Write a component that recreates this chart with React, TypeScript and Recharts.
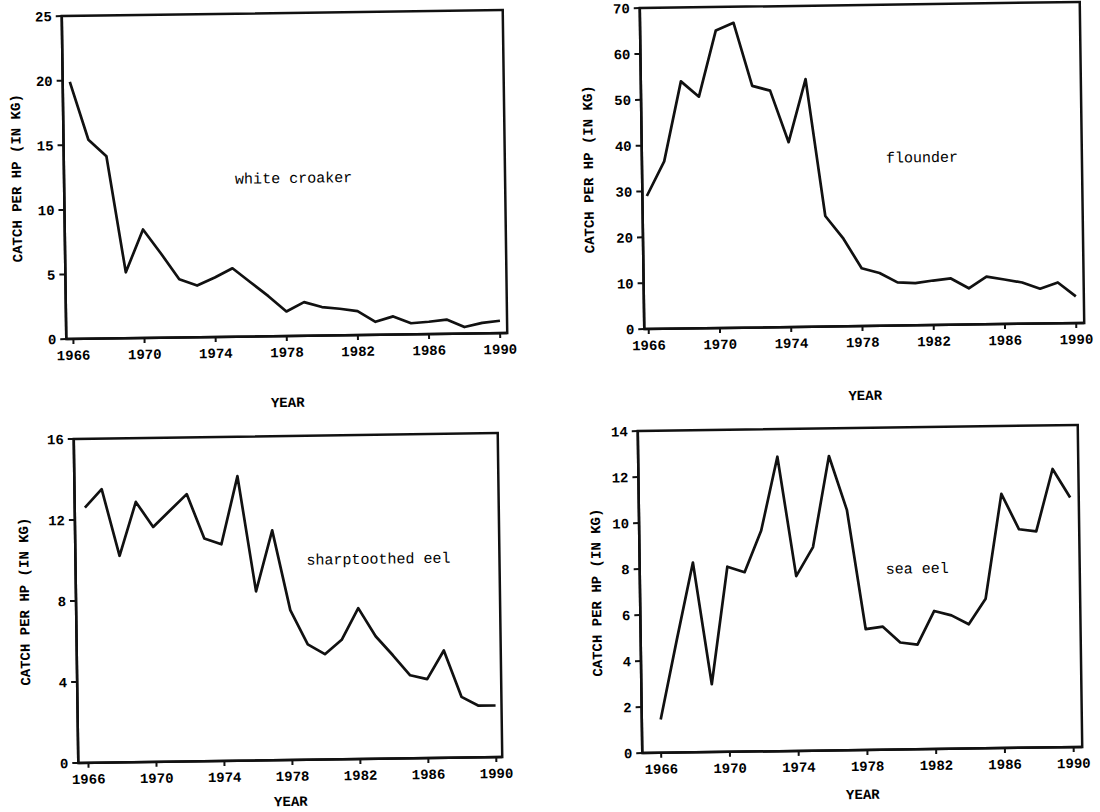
import { LineChart, Line, XAxis, YAxis, ReferenceArea } from "recharts";

const YEARS = [1966, 1967, 1968, 1969, 1970, 1971, 1972, 1973, 1974, 1975, 1976, 1977, 1978,
  1979, 1980, 1981, 1982, 1983, 1984, 1985, 1986, 1987, 1988, 1989, 1990];
const YEAR_TICKS = [1966, 1970, 1974, 1978, 1982, 1986, 1990];

const WHITE_CROAKER = [19.9, 15.4, 14.1, 5.1, 8.4, 6.5, 4.5, 4.0, 4.6, 5.3, 4.2, 3.1, 1.9,
  2.6, 2.2, 2.05, 1.85, 1.0, 1.4, 0.85, 0.95, 1.1, 0.5, 0.8, 0.95];
const FLOUNDER = [29.0, 36.5, 53.9, 50.5, 64.9, 66.5, 52.7, 51.6, 40.3, 54.0, 24.1, 19.1, 12.6,
  11.5, 9.4, 9.2, 9.7, 10.1, 7.9, 10.4, 9.7, 9.0, 7.6, 8.9, 5.8];
const SHARPTOOTHED_EEL = [12.6, 13.5, 10.2, 12.85, 11.6, 12.4, 13.2, 11.0, 10.7, 14.05, 8.35, 11.35, 7.4,
  5.7, 5.2, 5.9, 7.45, 6.05, 5.1, 4.1, 3.9, 5.3, 3.0, 2.55, 2.55];
const SEA_EEL = [1.45, 4.9, 8.25, 2.95, 8.05, 7.8, 9.6, 12.8, 7.6, 8.85, 12.8, 10.45, 5.25,
  5.35, 4.65, 4.55, 6.0, 5.8, 5.4, 6.5, 11.05, 9.5, 9.4, 12.1, 10.85];

const Y_TICKS_WC = [0, 5, 10, 15, 20, 25];
const Y_TICKS_FL = [0, 10, 20, 30, 40, 50, 60, 70];
const Y_TICKS_SE = [0, 4, 8, 12, 16];
const Y_TICKS_EEL = [0, 2, 4, 6, 8, 10, 12, 14];

const Y_LABEL = "CATCH PER HP (IN KG)";
const X_LABEL = "YEAR";

const YW = 60, MT = 10, MR = 20, XH = 80;
const TICK = { fill: "#000", fontSize: 14, fontFamily: "Liberation Mono", fontWeight: "bold" } as const;
const INK = "#111";

type PanelProps = {
  name: string; values: number[]; yTicks: number[]; xDomain: [number, number];
  plot: { x: number; y: number; w: number; h: number };
  yLabelOff: number; yearGap: number; note: { x: number; y: number };
};

function Panel({ name, values, yTicks, xDomain, plot, yLabelOff, yearGap, note }: PanelProps) {
  const data = YEARS.map((year, i) => ({ year, v: values[i] }));
  const yMax = yTicks[yTicks.length - 1];
  const left = plot.x - YW, top = plot.y - MT;
  const width = YW + plot.w + MR, height = MT + plot.h + XH;
  return (
    <div style={{
      position: "absolute", left, top, width, height,
      transform: "rotate(-0.8deg)", transformOrigin: `${YW + plot.w / 2}px ${MT + plot.h / 2}px`,
    }}>
      <LineChart width={width} height={height} data={data} margin={{ top: MT, right: MR, left: 0, bottom: 0 }}>
        <XAxis dataKey="year" type="number" domain={xDomain} ticks={YEAR_TICKS} allowDataOverflow
          height={XH} tick={TICK} tickSize={5} tickMargin={6} interval={0}
          axisLine={{ stroke: INK, strokeWidth: 2.5 }} tickLine={{ stroke: INK, strokeWidth: 2 }}
          label={{ value: X_LABEL, position: "insideTop", offset: yearGap, style: TICK }} />
        <YAxis type="number" domain={[0, yMax]} ticks={yTicks} allowDataOverflow width={YW}
          tick={TICK} tickSize={6} tickMargin={4} interval={0}
          axisLine={{ stroke: INK, strokeWidth: 2.5 }} tickLine={{ stroke: INK, strokeWidth: 2 }}
          label={{ value: Y_LABEL, angle: -90, position: "insideLeft", offset: yLabelOff,
            style: { ...TICK, textAnchor: "middle" } }} />
        <ReferenceArea x1={xDomain[0]} x2={xDomain[1]} y1={0} y2={yMax} fill="none" fillOpacity={0}
          stroke={INK} strokeWidth={2.5} />
        <Line type="linear" dataKey="v" stroke={INK} strokeWidth={2.7} dot={false}
          isAnimationActive={false} strokeLinejoin="round" />
      </LineChart>
      <div style={{
        position: "absolute", left: note.x - left, top: note.y - top - 8, fontFamily: "Liberation Mono",
        fontSize: 15, lineHeight: "16px", color: "#000", whiteSpace: "nowrap",
      }}>{name}</div>
    </div>
  );
}

export default function App() {
  return (
    <div style={{ position: "absolute", left: 0, top: 0, width: 1100, height: 812, background: "#fff", overflow: "hidden" }}>
      <Panel name="white croaker" values={WHITE_CROAKER} yTicks={Y_TICKS_WC} xDomain={[1965.6, 1990.4]}
        plot={{ x: 64, y: 13, w: 441, h: 323 }} yLabelOff={12} yearGap={61} note={{ x: 235, y: 180 }} />
      <Panel name="flounder" values={FLOUNDER} yTicks={Y_TICKS_FL} xDomain={[1965.75, 1990.45]}
        plot={{ x: 642, y: 5, w: 440, h: 321 }} yLabelOff={6} yearGap={64} note={{ x: 886, y: 160 }} />
      <Panel name="sharptoothed eel" values={SHARPTOOTHED_EEL} yTicks={Y_TICKS_SE} xDomain={[1965.4, 1990.35]}
        plot={{ x: 76, y: 436, w: 424, h: 324 }} yLabelOff={8} yearGap={36} note={{ x: 307, y: 562 }} />
      <Panel name="sea eel" values={SEA_EEL} yTicks={Y_TICKS_EEL} xDomain={[1964.9, 1990.5]}
        plot={{ x: 640, y: 428, w: 440, h: 322 }} yLabelOff={16} yearGap={39} note={{ x: 886, y: 571 }} />
    </div>
  );
}
